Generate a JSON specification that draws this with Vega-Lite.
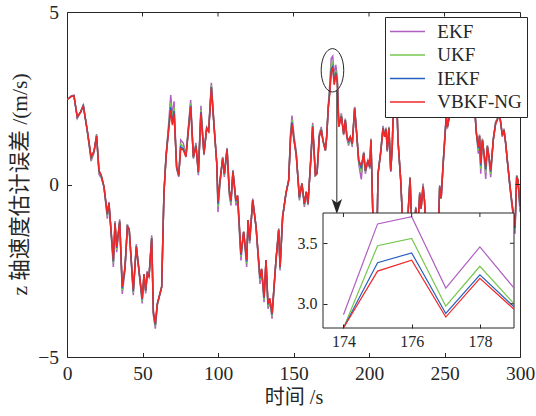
{
"$schema": "https://vega.github.io/schema/vega-lite/v6.json",
"width": 453, "height": 345,
"autosize": {"type": "none"},
"padding": {"left": 67, "top": 12, "right": 16, "bottom": 59},
"background": "white",
"config": {
 "view": {"stroke": "#262626", "strokeWidth": 1},
 "font": "Liberation Serif",
 "axis": {"grid": false, "labelFont": "Liberation Serif", "labelColor": "#262626", "tickColor": "#262626", "domainColor": "#262626", "titleColor": "#262626", "titleFont": "Liberation Serif, Noto Sans CJK SC", "titleFontWeight": "normal", "labelFlush": false, "labelOverlap": false}
},
"datasets": {
 "d": [
{"t":0,"EKF":2.48,"UKF":2.48,"IEKF":2.48,"VBKF-NG":2.48},
{"t":1.1,"EKF":2.49,"UKF":2.49,"IEKF":2.49,"VBKF-NG":2.49},
{"t":2.8,"EKF":2.57,"UKF":2.56,"IEKF":2.55,"VBKF-NG":2.55},
{"t":4.6,"EKF":2.59,"UKF":2.58,"IEKF":2.57,"VBKF-NG":2.57},
{"t":6.8,"EKF":1.92,"UKF":1.94,"IEKF":1.95,"VBKF-NG":1.96},
{"t":9,"EKF":2.1,"UKF":2.1,"IEKF":2.1,"VBKF-NG":2.1},
{"t":10.8,"EKF":2.32,"UKF":2.3,"IEKF":2.28,"VBKF-NG":2.27},
{"t":13.4,"EKF":1.57,"UKF":1.57,"IEKF":1.57,"VBKF-NG":1.57},
{"t":16,"EKF":0.68,"UKF":0.74,"IEKF":0.78,"VBKF-NG":0.8},
{"t":17.9,"EKF":0.92,"UKF":0.95,"IEKF":0.96,"VBKF-NG":0.97},
{"t":19.6,"EKF":1.46,"UKF":1.43,"IEKF":1.41,"VBKF-NG":1.4},
{"t":21.2,"EKF":0.29,"UKF":0.35,"IEKF":0.39,"VBKF-NG":0.41},
{"t":22.7,"EKF":0.19,"UKF":0.23,"IEKF":0.25,"VBKF-NG":0.27},
{"t":24.5,"EKF":-0.07,"UKF":-0.07,"IEKF":-0.07,"VBKF-NG":-0.07},
{"t":26.7,"EKF":-0.99,"UKF":-0.92,"IEKF":-0.87,"VBKF-NG":-0.84},
{"t":27.8,"EKF":-0.5,"UKF":-0.53,"IEKF":-0.54,"VBKF-NG":-0.55},
{"t":30.7,"EKF":-2.39,"UKF":-2.29,"IEKF":-2.23,"VBKF-NG":-2.19},
{"t":31.8,"EKF":-1.06,"UKF":-1.1,"IEKF":-1.12,"VBKF-NG":-1.13},
{"t":32.9,"EKF":-1.96,"UKF":-1.89,"IEKF":-1.84,"VBKF-NG":-1.81},
{"t":34.9,"EKF":-1.01,"UKF":-1.05,"IEKF":-1.07,"VBKF-NG":-1.08},
{"t":36.6,"EKF":-3.17,"UKF":-3.07,"IEKF":-3.01,"VBKF-NG":-2.97},
{"t":38.4,"EKF":-2.49,"UKF":-2.44,"IEKF":-2.41,"VBKF-NG":-2.39},
{"t":40,"EKF":-1.16,"UKF":-1.2,"IEKF":-1.22,"VBKF-NG":-1.23},
{"t":41.2,"EKF":-1.3,"UKF":-1.3,"IEKF":-1.3,"VBKF-NG":-1.3},
{"t":43.9,"EKF":-3.21,"UKF":-3.14,"IEKF":-3.09,"VBKF-NG":-3.06},
{"t":45.9,"EKF":-1.73,"UKF":-1.77,"IEKF":-1.79,"VBKF-NG":-1.81},
{"t":49.8,"EKF":-3.45,"UKF":-3.38,"IEKF":-3.33,"VBKF-NG":-3.3},
{"t":51,"EKF":-2.6,"UKF":-2.6,"IEKF":-2.6,"VBKF-NG":-2.6},
{"t":52.1,"EKF":-3.16,"UKF":-3.11,"IEKF":-3.08,"VBKF-NG":-3.06},
{"t":53.2,"EKF":-2.53,"UKF":-2.56,"IEKF":-2.57,"VBKF-NG":-2.58},
{"t":54.3,"EKF":-2.68,"UKF":-2.68,"IEKF":-2.68,"VBKF-NG":-2.68},
{"t":56.1,"EKF":-1.47,"UKF":-1.52,"IEKF":-1.55,"VBKF-NG":-1.57},
{"t":57.2,"EKF":-3.79,"UKF":-3.74,"IEKF":-3.71,"VBKF-NG":-3.69},
{"t":58.5,"EKF":-4.18,"UKF":-4.11,"IEKF":-4.06,"VBKF-NG":-4.03},
{"t":59.8,"EKF":-3.5,"UKF":-3.48,"IEKF":-3.46,"VBKF-NG":-3.45},
{"t":61.6,"EKF":-3.16,"UKF":-3.16,"IEKF":-3.16,"VBKF-NG":-3.16},
{"t":62.7,"EKF":-2.97,"UKF":-2.97,"IEKF":-2.97,"VBKF-NG":-2.97},
{"t":64.2,"EKF":-0.26,"UKF":-0.26,"IEKF":-0.26,"VBKF-NG":-0.26},
{"t":65.6,"EKF":0.85,"UKF":0.83,"IEKF":0.81,"VBKF-NG":0.8},
{"t":67.1,"EKF":1.63,"UKF":1.56,"IEKF":1.51,"VBKF-NG":1.48},
{"t":68.7,"EKF":2.59,"UKF":2.37,"IEKF":2.24,"VBKF-NG":2.15},
{"t":69.8,"EKF":1.97,"UKF":1.85,"IEKF":1.77,"VBKF-NG":1.72},
{"t":70.9,"EKF":2.41,"UKF":2.24,"IEKF":2.13,"VBKF-NG":2.06},
{"t":72.6,"EKF":0.46,"UKF":0.49,"IEKF":0.5,"VBKF-NG":0.51},
{"t":74,"EKF":0.22,"UKF":0.25,"IEKF":0.26,"VBKF-NG":0.27},
{"t":75.3,"EKF":1.29,"UKF":1.17,"IEKF":1.09,"VBKF-NG":1.04},
{"t":77,"EKF":1.2,"UKF":1.1,"IEKF":1.04,"VBKF-NG":1.0},
{"t":78.8,"EKF":0.85,"UKF":0.83,"IEKF":0.81,"VBKF-NG":0.8},
{"t":80.6,"EKF":1.77,"UKF":1.72,"IEKF":1.69,"VBKF-NG":1.67},
{"t":81.9,"EKF":2.45,"UKF":2.35,"IEKF":2.29,"VBKF-NG":2.25},
{"t":83.7,"EKF":0.75,"UKF":0.78,"IEKF":0.79,"VBKF-NG":0.8},
{"t":85.4,"EKF":1.21,"UKF":1.16,"IEKF":1.13,"VBKF-NG":1.11},
{"t":87,"EKF":0.27,"UKF":0.32,"IEKF":0.35,"VBKF-NG":0.37},
{"t":88.7,"EKF":2.28,"UKF":2.17,"IEKF":2.1,"VBKF-NG":2.06},
{"t":90.7,"EKF":0.85,"UKF":0.88,"IEKF":0.89,"VBKF-NG":0.9},
{"t":92.5,"EKF":1.67,"UKF":1.65,"IEKF":1.63,"VBKF-NG":1.62},
{"t":93.8,"EKF":1.58,"UKF":1.56,"IEKF":1.54,"VBKF-NG":1.53},
{"t":95.6,"EKF":2.95,"UKF":2.88,"IEKF":2.83,"VBKF-NG":2.8},
{"t":97.4,"EKF":1.72,"UKF":1.7,"IEKF":1.68,"VBKF-NG":1.67},
{"t":99.2,"EKF":0.6,"UKF":0.6,"IEKF":0.6,"VBKF-NG":0.6},
{"t":100,"EKF":-0.8,"UKF":-0.65,"IEKF":-0.56,"VBKF-NG":-0.5},
{"t":101.3,"EKF":0.02,"UKF":0.07,"IEKF":0.1,"VBKF-NG":0.12},
{"t":103.1,"EKF":0.8,"UKF":0.78,"IEKF":0.76,"VBKF-NG":0.75},
{"t":104.2,"EKF":0.22,"UKF":0.27,"IEKF":0.3,"VBKF-NG":0.32},
{"t":106,"EKF":1.06,"UKF":1.04,"IEKF":1.02,"VBKF-NG":1.01},
{"t":107.5,"EKF":-0.32,"UKF":-0.25,"IEKF":-0.2,"VBKF-NG":-0.17},
{"t":108.6,"EKF":-0.61,"UKF":-0.54,"IEKF":-0.49,"VBKF-NG":-0.46},
{"t":109.9,"EKF":0.42,"UKF":0.4,"IEKF":0.38,"VBKF-NG":0.37},
{"t":111.9,"EKF":-0.61,"UKF":-0.54,"IEKF":-0.49,"VBKF-NG":-0.46},
{"t":113,"EKF":-0.41,"UKF":-0.36,"IEKF":-0.33,"VBKF-NG":-0.31},
{"t":115.2,"EKF":-2.2,"UKF":-2.1,"IEKF":-2.04,"VBKF-NG":-2.0},
{"t":117,"EKF":-1.37,"UKF":-1.37,"IEKF":-1.37,"VBKF-NG":-1.37},
{"t":119,"EKF":-2.39,"UKF":-2.29,"IEKF":-2.23,"VBKF-NG":-2.19},
{"t":119.9,"EKF":-1.03,"UKF":-1.03,"IEKF":-1.03,"VBKF-NG":-1.03},
{"t":121,"EKF":-1.71,"UKF":-1.66,"IEKF":-1.63,"VBKF-NG":-1.61},
{"t":123,"EKF":-0.41,"UKF":-0.44,"IEKF":-0.45,"VBKF-NG":-0.46},
{"t":125.2,"EKF":-1.23,"UKF":-1.23,"IEKF":-1.23,"VBKF-NG":-1.23},
{"t":127.8,"EKF":-2.88,"UKF":-2.78,"IEKF":-2.72,"VBKF-NG":-2.68},
{"t":128.9,"EKF":-2.49,"UKF":-2.47,"IEKF":-2.45,"VBKF-NG":-2.44},
{"t":130.5,"EKF":-3.41,"UKF":-3.34,"IEKF":-3.29,"VBKF-NG":-3.26},
{"t":131.8,"EKF":-2.19,"UKF":-2.19,"IEKF":-2.19,"VBKF-NG":-2.19},
{"t":133.1,"EKF":-3.6,"UKF":-3.53,"IEKF":-3.48,"VBKF-NG":-3.45},
{"t":134.4,"EKF":-3.4,"UKF":-3.35,"IEKF":-3.32,"VBKF-NG":-3.3},
{"t":135.8,"EKF":-3.89,"UKF":-3.82,"IEKF":-3.77,"VBKF-NG":-3.74},
{"t":138.4,"EKF":-2.19,"UKF":-2.19,"IEKF":-2.19,"VBKF-NG":-2.19},
{"t":140.2,"EKF":-1.27,"UKF":-1.3,"IEKF":-1.31,"VBKF-NG":-1.32},
{"t":141.1,"EKF":-2.49,"UKF":-2.44,"IEKF":-2.41,"VBKF-NG":-2.39},
{"t":142.8,"EKF":-0.94,"UKF":-0.94,"IEKF":-0.94,"VBKF-NG":-0.94},
{"t":145,"EKF":-0.26,"UKF":-0.26,"IEKF":-0.26,"VBKF-NG":-0.26},
{"t":146.8,"EKF":0.12,"UKF":0.12,"IEKF":0.12,"VBKF-NG":0.12},
{"t":148.1,"EKF":1.53,"UKF":1.46,"IEKF":1.41,"VBKF-NG":1.38},
{"t":149,"EKF":2.0,"UKF":1.88,"IEKF":1.8,"VBKF-NG":1.75},
{"t":150.3,"EKF":1.43,"UKF":1.36,"IEKF":1.31,"VBKF-NG":1.28},
{"t":151.8,"EKF":0.95,"UKF":0.9,"IEKF":0.87,"VBKF-NG":0.85},
{"t":153.9,"EKF":-0.46,"UKF":-0.41,"IEKF":-0.38,"VBKF-NG":-0.36},
{"t":155.6,"EKF":0.03,"UKF":0.03,"IEKF":0.03,"VBKF-NG":0.03},
{"t":157.2,"EKF":-0.65,"UKF":-0.6,"IEKF":-0.57,"VBKF-NG":-0.55},
{"t":158.5,"EKF":-0.21,"UKF":-0.21,"IEKF":-0.21,"VBKF-NG":-0.21},
{"t":159.6,"EKF":-0.6,"UKF":-0.58,"IEKF":-0.56,"VBKF-NG":-0.55},
{"t":161.6,"EKF":0.9,"UKF":0.85,"IEKF":0.82,"VBKF-NG":0.8},
{"t":162.7,"EKF":1.79,"UKF":1.73,"IEKF":1.69,"VBKF-NG":1.67},
{"t":164.5,"EKF":0.27,"UKF":0.27,"IEKF":0.27,"VBKF-NG":0.27},
{"t":165.6,"EKF":0.32,"UKF":0.32,"IEKF":0.32,"VBKF-NG":0.32},
{"t":167.1,"EKF":1.48,"UKF":1.43,"IEKF":1.4,"VBKF-NG":1.38},
{"t":168.4,"EKF":1.67,"UKF":1.62,"IEKF":1.59,"VBKF-NG":1.57},
{"t":169.5,"EKF":1.28,"UKF":1.28,"IEKF":1.28,"VBKF-NG":1.28},
{"t":171.1,"EKF":0.99,"UKF":0.99,"IEKF":0.99,"VBKF-NG":0.99},
{"t":172,"EKF":1.43,"UKF":1.41,"IEKF":1.39,"VBKF-NG":1.38},
{"t":173,"EKF":2.26,"UKF":2.23,"IEKF":2.21,"VBKF-NG":2.2},
{"t":174,"EKF":2.91,"UKF":2.76,"IEKF":2.68,"VBKF-NG":2.63},
{"t":175,"EKF":3.66,"UKF":3.48,"IEKF":3.34,"VBKF-NG":3.27},
{"t":176,"EKF":3.72,"UKF":3.54,"IEKF":3.42,"VBKF-NG":3.36},
{"t":177,"EKF":3.13,"UKF":2.98,"IEKF":2.92,"VBKF-NG":2.89},
{"t":178,"EKF":3.47,"UKF":3.31,"IEKF":3.24,"VBKF-NG":3.21},
{"t":179,"EKF":3.13,"UKF":3.0,"IEKF":2.975,"VBKF-NG":2.955},
{"t":180,"EKF":1.77,"UKF":1.72,"IEKF":1.69,"VBKF-NG":1.67},
{"t":181.7,"EKF":2.06,"UKF":2.01,"IEKF":1.98,"VBKF-NG":1.96},
{"t":183.2,"EKF":1.43,"UKF":1.46,"IEKF":1.47,"VBKF-NG":1.48},
{"t":184.3,"EKF":1.91,"UKF":1.89,"IEKF":1.87,"VBKF-NG":1.86},
{"t":185.4,"EKF":1.33,"UKF":1.36,"IEKF":1.37,"VBKF-NG":1.38},
{"t":186.5,"EKF":1.13,"UKF":1.21,"IEKF":1.25,"VBKF-NG":1.28},
{"t":187.6,"EKF":1.38,"UKF":1.38,"IEKF":1.38,"VBKF-NG":1.38},
{"t":188.9,"EKF":1.09,"UKF":1.14,"IEKF":1.17,"VBKF-NG":1.19},
{"t":190.5,"EKF":2.25,"UKF":2.23,"IEKF":2.21,"VBKF-NG":2.2},
{"t":192,"EKF":1.38,"UKF":1.38,"IEKF":1.38,"VBKF-NG":1.38},
{"t":193.2,"EKF":0.6,"UKF":0.65,"IEKF":0.68,"VBKF-NG":0.7},
{"t":194.9,"EKF":0.15,"UKF":0.35,"IEKF":0.47,"VBKF-NG":0.55},
{"t":196.5,"EKF":0.95,"UKF":0.93,"IEKF":0.91,"VBKF-NG":0.9},
{"t":197.6,"EKF":0.31,"UKF":0.36,"IEKF":0.39,"VBKF-NG":0.41},
{"t":199.3,"EKF":0.7,"UKF":0.7,"IEKF":0.7,"VBKF-NG":0.7},
{"t":200.5,"EKF":0.46,"UKF":0.49,"IEKF":0.5,"VBKF-NG":0.51},
{"t":201.3,"EKF":1.33,"UKF":1.31,"IEKF":1.29,"VBKF-NG":1.28},
{"t":202.5,"EKF":-0.8,"UKF":-0.8,"IEKF":-0.8,"VBKF-NG":-0.8},
{"t":204,"EKF":-1.8,"UKF":-1.8,"IEKF":-1.8,"VBKF-NG":-1.8},
{"t":205.5,"EKF":-0.9,"UKF":-0.9,"IEKF":-0.9,"VBKF-NG":-0.9},
{"t":206,"EKF":0.32,"UKF":0.32,"IEKF":0.32,"VBKF-NG":0.32},
{"t":207.7,"EKF":0.95,"UKF":0.93,"IEKF":0.91,"VBKF-NG":0.9},
{"t":209.3,"EKF":1.7,"UKF":1.66,"IEKF":1.64,"VBKF-NG":1.62},
{"t":210.4,"EKF":1.38,"UKF":1.38,"IEKF":1.38,"VBKF-NG":1.38},
{"t":211.3,"EKF":1.65,"UKF":1.63,"IEKF":1.61,"VBKF-NG":1.6},
{"t":212.1,"EKF":0.95,"UKF":0.98,"IEKF":0.99,"VBKF-NG":1.0},
{"t":213.2,"EKF":1.67,"UKF":1.65,"IEKF":1.63,"VBKF-NG":1.62},
{"t":214.4,"EKF":0.36,"UKF":0.39,"IEKF":0.4,"VBKF-NG":0.41},
{"t":215.4,"EKF":1.09,"UKF":1.09,"IEKF":1.09,"VBKF-NG":1.09},
{"t":216.8,"EKF":3.3,"UKF":3.25,"IEKF":3.22,"VBKF-NG":3.2},
{"t":218,"EKF":3.0,"UKF":3.0,"IEKF":3.0,"VBKF-NG":3.0},
{"t":219.2,"EKF":1.28,"UKF":1.28,"IEKF":1.28,"VBKF-NG":1.28},
{"t":221,"EKF":0.12,"UKF":0.12,"IEKF":0.12,"VBKF-NG":0.12},
{"t":222.5,"EKF":-1.3,"UKF":-1.3,"IEKF":-1.3,"VBKF-NG":-1.3},
{"t":224,"EKF":-2.1,"UKF":-2.05,"IEKF":-2.02,"VBKF-NG":-2.0},
{"t":225.8,"EKF":-0.9,"UKF":-0.9,"IEKF":-0.9,"VBKF-NG":-0.9},
{"t":227.2,"EKF":0.22,"UKF":0.2,"IEKF":0.18,"VBKF-NG":0.17},
{"t":228.5,"EKF":-1.5,"UKF":-1.5,"IEKF":-1.5,"VBKF-NG":-1.5},
{"t":230,"EKF":-1.2,"UKF":-1.2,"IEKF":-1.2,"VBKF-NG":-1.2},
{"t":231,"EKF":-0.65,"UKF":-0.68,"IEKF":-0.69,"VBKF-NG":-0.7},
{"t":232,"EKF":-1.5,"UKF":-1.5,"IEKF":-1.5,"VBKF-NG":-1.5},
{"t":233.6,"EKF":-0.22,"UKF":-0.25,"IEKF":-0.26,"VBKF-NG":-0.27},
{"t":234.5,"EKF":-0.7,"UKF":-0.7,"IEKF":-0.7,"VBKF-NG":-0.7},
{"t":235.8,"EKF":0.03,"UKF":-0.02,"IEKF":-0.05,"VBKF-NG":-0.07},
{"t":236.8,"EKF":-0.5,"UKF":-0.5,"IEKF":-0.5,"VBKF-NG":-0.5},
{"t":238,"EKF":-1.8,"UKF":-1.8,"IEKF":-1.8,"VBKF-NG":-1.8},
{"t":240,"EKF":-2.2,"UKF":-2.2,"IEKF":-2.2,"VBKF-NG":-2.2},
{"t":242,"EKF":-1.6,"UKF":-1.6,"IEKF":-1.6,"VBKF-NG":-1.6},
{"t":244,"EKF":-2.3,"UKF":-2.3,"IEKF":-2.3,"VBKF-NG":-2.3},
{"t":246,"EKF":-1.2,"UKF":-1.2,"IEKF":-1.2,"VBKF-NG":-1.2},
{"t":246.8,"EKF":-0.02,"UKF":-0.05,"IEKF":-0.06,"VBKF-NG":-0.07},
{"t":247.8,"EKF":-0.4,"UKF":-0.4,"IEKF":-0.4,"VBKF-NG":-0.4},
{"t":249,"EKF":0.56,"UKF":0.54,"IEKF":0.52,"VBKF-NG":0.51},
{"t":250.5,"EKF":1.6,"UKF":1.55,"IEKF":1.52,"VBKF-NG":1.5},
{"t":251.2,"EKF":2.06,"UKF":2.01,"IEKF":1.98,"VBKF-NG":1.96},
{"t":251.9,"EKF":1.62,"UKF":1.65,"IEKF":1.66,"VBKF-NG":1.67},
{"t":253,"EKF":1.96,"UKF":1.94,"IEKF":1.92,"VBKF-NG":1.91},
{"t":254.5,"EKF":2.8,"UKF":2.8,"IEKF":2.8,"VBKF-NG":2.8},
{"t":256,"EKF":3.3,"UKF":3.3,"IEKF":3.3,"VBKF-NG":3.3},
{"t":258,"EKF":2.6,"UKF":2.6,"IEKF":2.6,"VBKF-NG":2.6},
{"t":260,"EKF":3.1,"UKF":3.1,"IEKF":3.1,"VBKF-NG":3.1},
{"t":262,"EKF":2.7,"UKF":2.7,"IEKF":2.7,"VBKF-NG":2.7},
{"t":264,"EKF":3.3,"UKF":3.3,"IEKF":3.3,"VBKF-NG":3.3},
{"t":266,"EKF":2.5,"UKF":2.5,"IEKF":2.5,"VBKF-NG":2.5},
{"t":268,"EKF":3.0,"UKF":3.0,"IEKF":3.0,"VBKF-NG":3.0},
{"t":270,"EKF":2.2,"UKF":2.2,"IEKF":2.2,"VBKF-NG":2.2},
{"t":271.1,"EKF":1.53,"UKF":1.51,"IEKF":1.49,"VBKF-NG":1.48},
{"t":272.4,"EKF":0.89,"UKF":0.99,"IEKF":1.05,"VBKF-NG":1.09},
{"t":273.2,"EKF":1.45,"UKF":1.43,"IEKF":1.41,"VBKF-NG":1.4},
{"t":274,"EKF":0.31,"UKF":0.46,"IEKF":0.55,"VBKF-NG":0.61},
{"t":275.1,"EKF":1.33,"UKF":1.31,"IEKF":1.29,"VBKF-NG":1.28},
{"t":276.2,"EKF":0.8,"UKF":0.85,"IEKF":0.88,"VBKF-NG":0.9},
{"t":277.3,"EKF":0.16,"UKF":0.34,"IEKF":0.44,"VBKF-NG":0.51},
{"t":278.4,"EKF":1.14,"UKF":1.12,"IEKF":1.1,"VBKF-NG":1.09},
{"t":279.5,"EKF":0.7,"UKF":0.75,"IEKF":0.78,"VBKF-NG":0.8},
{"t":280.6,"EKF":0.21,"UKF":0.31,"IEKF":0.37,"VBKF-NG":0.41},
{"t":282.3,"EKF":1.33,"UKF":1.31,"IEKF":1.29,"VBKF-NG":1.28},
{"t":283.9,"EKF":1.82,"UKF":1.8,"IEKF":1.78,"VBKF-NG":1.77},
{"t":285,"EKF":1.91,"UKF":1.89,"IEKF":1.87,"VBKF-NG":1.86},
{"t":286.1,"EKF":2.15,"UKF":2.13,"IEKF":2.11,"VBKF-NG":2.1},
{"t":287.2,"EKF":1.8,"UKF":1.8,"IEKF":1.8,"VBKF-NG":1.8},
{"t":288.3,"EKF":1.38,"UKF":1.41,"IEKF":1.42,"VBKF-NG":1.43},
{"t":289.4,"EKF":1.62,"UKF":1.6,"IEKF":1.58,"VBKF-NG":1.57},
{"t":290.5,"EKF":1.2,"UKF":1.2,"IEKF":1.2,"VBKF-NG":1.2},
{"t":291.6,"EKF":0.7,"UKF":0.7,"IEKF":0.7,"VBKF-NG":0.7},
{"t":293.2,"EKF":-0.02,"UKF":0.01,"IEKF":0.02,"VBKF-NG":0.03},
{"t":294.5,"EKF":-0.56,"UKF":-0.51,"IEKF":-0.48,"VBKF-NG":-0.46},
{"t":295.6,"EKF":-0.94,"UKF":-0.89,"IEKF":-0.86,"VBKF-NG":-0.84},
{"t":296.7,"EKF":-1.43,"UKF":-1.33,"IEKF":-1.27,"VBKF-NG":-1.23},
{"t":297.8,"EKF":0.27,"UKF":0.25,"IEKF":0.23,"VBKF-NG":0.22},
{"t":298.7,"EKF":0.12,"UKF":0.12,"IEKF":0.12,"VBKF-NG":0.12},
{"t":300,"EKF":-0.8,"UKF":-0.7,"IEKF":-0.64,"VBKF-NG":-0.6}
 ]
},
"layer": [
 {
  "data": {"name": "d"},
  "transform": [{"fold": ["EKF", "UKF", "IEKF", "VBKF-NG"]}],
  "mark": {"type": "line", "strokeWidth": 1.5, "clip": true},
  "encoding": {
   "x": {"field": "t", "type": "quantitative", "scale": {"domain": [0, 300], "nice": false, "zero": false},
    "axis": {"title": "时间 /s", "orient": "bottom", "values": [0, 50, 100, 150, 200, 250, 300], "format": "d", "labelFontSize": 19.5, "tickSize": -4.5, "labelPadding": 11.5, "domain": false, "titleFontSize": 20, "titleX": 226.5, "titleY": 40, "titleBaseline": "middle", "zindex": 1}},
   "y": {"field": "value", "type": "quantitative", "scale": {"domain": [-5, 5], "nice": false, "zero": false},
    "axis": {"title": "z 轴速度估计误差 /(m/s)", "orient": "left", "values": [-5, 0, 5], "labelFontSize": 19.5, "tickSize": -4.5, "labelPadding": 13, "domain": false, "titleFontSize": 21.5, "titleX": -47, "titleY": 172, "titleBaseline": "middle", "zindex": 1}},
   "color": {"field": "key", "type": "nominal",
    "scale": {"domain": ["EKF", "UKF", "IEKF", "VBKF-NG"], "range": ["#B05FC0", "#77C74E", "#2860C0", "#F02828"]},
    "legend": {"orient": "none", "legendX": 318, "legendY": 5, "title": null, "symbolType": "M-3.5,0H3.5", "symbolSize": 100, "symbolStrokeWidth": 1.5, "symbolOffset": 8, "labelOffset": 20.3, "labelFont": "Liberation Serif", "labelFontSize": 19, "labelColor": "#262626", "padding": 5, "rowPadding": 3.5, "strokeColor": "#262626", "fillColor": "white", "zindex": 1}}
  }
 },
 {
  "data": {"values": [{"t": 50, "a": 5, "b": 4.87}, {"t": 100, "a": 5, "b": 4.87}, {"t": 150, "a": 5, "b": 4.87}, {"t": 200, "a": 5, "b": 4.87}, {"t": 250, "a": 5, "b": 4.87}]},
  "mark": {"type": "rule", "color": "#262626", "strokeWidth": 1},
  "encoding": {
   "x": {"field": "t", "type": "quantitative", "axis": null, "scale": {"domain": [0, 300], "nice": false, "zero": false}},
   "y": {"field": "a", "type": "quantitative", "axis": null, "scale": {"domain": [-5, 5], "nice": false, "zero": false}},
   "y2": {"field": "b"}}
 },
 {
  "data": {"values": [{"v": 0, "a": 300, "b": 297}]},
  "mark": {"type": "rule", "color": "#262626", "strokeWidth": 1},
  "encoding": {
   "y": {"field": "v", "type": "quantitative", "axis": null, "scale": {"domain": [-5, 5], "nice": false, "zero": false}},
   "x": {"field": "a", "type": "quantitative", "axis": null, "scale": {"domain": [0, 300], "nice": false, "zero": false}},
   "x2": {"field": "b"}}
 },
 {
  "data": {"values": [{"t": 175.8, "v": 3.31}]},
  "mark": {"type": "point", "shape": "M0,-1A0.52,1 0 1,1 0,1A0.52,1 0 1,1 0,-1Z", "size": 1884, "filled": false, "stroke": "#262626", "strokeWidth": 1, "opacity": 1},
  "encoding": {
   "x": {"field": "t", "type": "quantitative", "axis": null, "scale": {"domain": [0, 300], "nice": false, "zero": false}},
   "y": {"field": "v", "type": "quantitative", "axis": null, "scale": {"domain": [-5, 5], "nice": false, "zero": false}}}
 },
 {
  "data": {"values": [{"t": 178.7, "a": 2.72, "b": -0.6}]},
  "mark": {"type": "rule", "color": "#262626", "strokeWidth": 1},
  "encoding": {
   "x": {"field": "t", "type": "quantitative", "axis": null, "scale": {"domain": [0, 300], "nice": false, "zero": false}},
   "y": {"field": "a", "type": "quantitative", "axis": null, "scale": {"domain": [-5, 5], "nice": false, "zero": false}},
   "y2": {"field": "b"}}
 },
 {
  "data": {"values": [{"t": 178.7, "v": -0.64}]},
  "mark": {"type": "point", "shape": "M0,1L-0.7,-1L0,-0.5L0.7,-1Z", "size": 225, "filled": true, "fill": "#262626", "strokeWidth": 0, "opacity": 1},
  "encoding": {
   "x": {"field": "t", "type": "quantitative", "axis": null, "scale": {"domain": [0, 300], "nice": false, "zero": false}},
   "y": {"field": "v", "type": "quantitative", "axis": null, "scale": {"domain": [-5, 5], "nice": false, "zero": false}}}
 },
 {
  "data": {"values": [{"x1": 173.4, "x2": 179, "y1": 2.8, "y2": 3.75}]},
  "mark": {"type": "rect", "fill": "white", "stroke": "#262626", "strokeWidth": 1},
  "encoding": {
   "x": {"field": "x1", "type": "quantitative", "axis": null, "scale": {"domain": [173.4, 179], "range": [256, 447], "nice": false, "zero": false}},
   "x2": {"field": "x2"},
   "y": {"field": "y1", "type": "quantitative", "axis": null, "scale": {"domain": [2.8, 3.75], "range": [316, 201], "nice": false, "zero": false}},
   "y2": {"field": "y2"}
  }
 },
 {
  "data": {"name": "d"},
  "transform": [{"filter": {"field": "t", "range": [174, 179]}}, {"fold": ["EKF", "UKF", "IEKF", "VBKF-NG"]}],
  "mark": {"type": "line", "strokeWidth": 1.2},
  "encoding": {
   "x": {"field": "t", "type": "quantitative", "scale": {"domain": [173.4, 179], "range": [256, 447], "nice": false, "zero": false},
    "axis": {"title": null, "orient": "bottom", "offset": -29, "values": [174, 176, 178], "format": "d", "labelFontSize": 16, "tickSize": -4, "labelPadding": 9, "domain": false, "zindex": 2}},
   "y": {"field": "value", "type": "quantitative", "scale": {"domain": [2.8, 3.75], "range": [316, 201], "nice": false, "zero": false, "clamp": true},
    "axis": {"title": null, "orient": "left", "offset": -256, "values": [3.0, 3.5], "format": ".1f", "labelFontSize": 16, "tickSize": -4, "labelPadding": 10, "domain": false, "zindex": 2}},
   "color": {"field": "key", "type": "nominal", "scale": {"domain": ["EKF", "UKF", "IEKF", "VBKF-NG"], "range": ["#B05FC0", "#77C74E", "#2860C0", "#F02828"]}}
  }
 },
 {
  "data": {"values": [{"t": 174, "a": 3.75, "b": 3.717}, {"t": 176, "a": 3.75, "b": 3.717}, {"t": 178, "a": 3.75, "b": 3.717}]},
  "mark": {"type": "rule", "color": "#262626", "strokeWidth": 1},
  "encoding": {
   "x": {"field": "t", "type": "quantitative", "axis": null, "scale": {"domain": [173.4, 179], "range": [256, 447], "nice": false, "zero": false}},
   "y": {"field": "a", "type": "quantitative", "axis": null, "scale": {"domain": [2.8, 3.75], "range": [316, 201], "nice": false, "zero": false}},
   "y2": {"field": "b"}}
 },
 {
  "data": {"values": [{"v": 3.0, "a": 179, "b": 178.88}, {"v": 3.5, "a": 179, "b": 178.88}]},
  "mark": {"type": "rule", "color": "#262626", "strokeWidth": 1},
  "encoding": {
   "y": {"field": "v", "type": "quantitative", "axis": null, "scale": {"domain": [2.8, 3.75], "range": [316, 201], "nice": false, "zero": false}},
   "x": {"field": "a", "type": "quantitative", "axis": null, "scale": {"domain": [173.4, 179], "range": [256, 447], "nice": false, "zero": false}},
   "x2": {"field": "b"}}
 }
],
"resolve": {"scale": {"x": "independent", "y": "independent"}}
}
